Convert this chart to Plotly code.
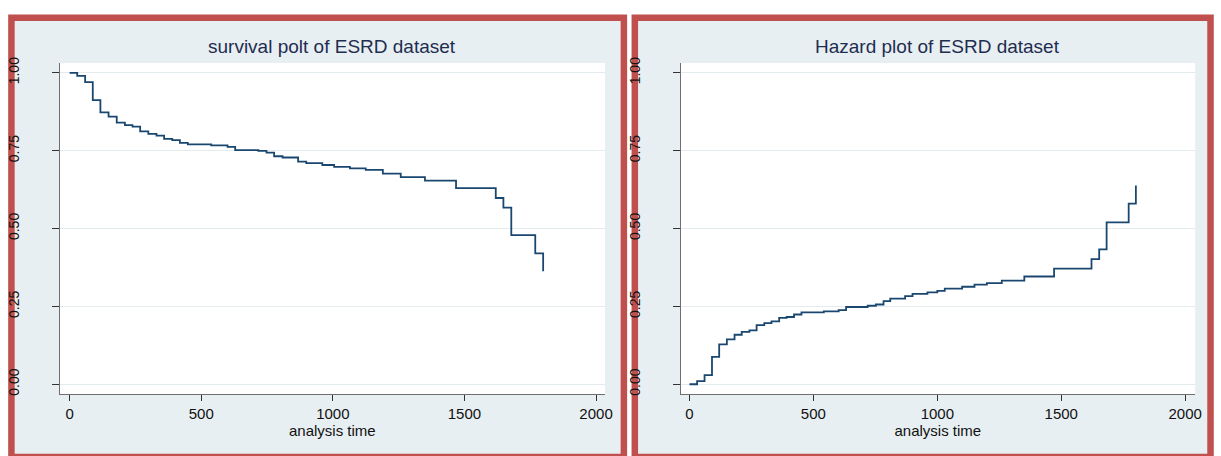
import plotly.graph_objects as go

# ---- data ----
surv_time = [0, 29, 59, 88, 117, 148, 179, 210, 239, 268, 299, 330, 359, 390, 419, 449,
             538, 600, 629, 717, 748, 777, 809, 868, 899, 960, 1005, 1065, 1125, 1190,
             1258, 1350, 1468, 1619, 1648, 1678, 1769, 1799]
surv_prob = [1.000, 0.990, 0.970, 0.912, 0.873, 0.859, 0.840, 0.832, 0.827, 0.812, 0.804,
             0.798, 0.788, 0.784, 0.775, 0.770, 0.767, 0.762, 0.752, 0.749, 0.744, 0.732,
             0.728, 0.715, 0.710, 0.704, 0.698, 0.693, 0.688, 0.676, 0.665, 0.654, 0.630,
             0.598, 0.567, 0.479, 0.420, 0.363]

haz_time = [0, 31, 61, 91, 120, 151, 182, 211, 242, 271, 302, 331, 362, 392, 422, 452,
            542, 602, 632, 719, 752, 783, 810, 870, 900, 960, 1000, 1030, 1100, 1150,
            1200, 1260, 1351, 1471, 1622, 1653, 1683, 1772, 1801]
haz_cum = [0.000, 0.010, 0.029, 0.088, 0.128, 0.144, 0.159, 0.168, 0.173, 0.190, 0.196,
           0.202, 0.213, 0.216, 0.224, 0.231, 0.234, 0.238, 0.248, 0.252, 0.256, 0.267,
           0.275, 0.283, 0.290, 0.295, 0.300, 0.307, 0.313, 0.320, 0.325, 0.333, 0.346,
           0.371, 0.402, 0.433, 0.520, 0.580, 0.638]

x_ticks = [0, 500, 1000, 1500, 2000]
y_ticks = [0, 0.25, 0.5, 0.75, 1.0]
y_tick_text = ["0.00", "0.25", "0.50", "0.75", "1.00"]
titles = ["survival polt of ESRD dataset", "Hazard plot of ESRD dataset"]
x_title = "analysis time"

W, H = 1221, 456
FONT = "Liberation Sans, Arial, sans-serif"
LINE = "#1a476f"
PANEL_BG = "#e8eff2"
RED = "#c0504d"
GRID = "#e3ebef"

fig = go.Figure()
fig.add_trace(go.Scatter(x=surv_time, y=surv_prob, mode="lines", line_shape="hv",
                         line=dict(color=LINE, width=1.8), xaxis="x", yaxis="y",
                         showlegend=False))
fig.add_trace(go.Scatter(x=haz_time, y=haz_cum, mode="lines", line_shape="hv",
                         line=dict(color=LINE, width=1.8), xaxis="x2", yaxis="y2",
                         showlegend=False))

def px_x(v):
    return v / W

def px_y(v):
    return 1 - v / H

ydom = [px_y(395), px_y(58)]
xdom1 = [px_x(60), px_x(609)]
xdom2 = [px_x(685), px_x(1203)]

def xaxis(domain, anchor, rng):
    return dict(domain=domain, anchor=anchor, range=rng, tickvals=x_ticks,
                showgrid=False, zeroline=False, showline=True, linecolor="#6e6e6e",
                linewidth=1, ticks="outside", ticklen=6, tickcolor="#333333",
                tickfont=dict(family=FONT, size=15, color="#111111"),
                title=dict(text=x_title, standoff=0,
                           font=dict(family=FONT, size=15, color="#111111")))

def yaxis(domain, anchor):
    return dict(domain=domain, anchor=anchor, range=[-0.0315, 1.0315],
                tickvals=y_ticks, ticktext=y_tick_text, tickangle=-90,
                showgrid=True, gridcolor=GRID, gridwidth=1, zeroline=False,
                showline=True, linecolor="#6e6e6e", linewidth=1,
                ticks="outside", ticklen=7, tickcolor="#333333",
                ticklabelstandoff=27,
                tickfont=dict(family=FONT, size=14, color="#111111"))

def rect(x0, x1, y0, y1, fill, line=None):
    d = dict(type="rect", xref="paper", yref="paper", layer="below",
             x0=px_x(x0), x1=px_x(x1), y0=px_y(y1), y1=px_y(y0), fillcolor=fill)
    d["line"] = line if line else dict(width=0)
    return d

fig.update_layout(
    width=W, height=H, margin=dict(l=0, r=0, t=0, b=0),
    paper_bgcolor="white", plot_bgcolor="white",
    xaxis=xaxis(xdom1, "y", [-38, 2034]),
    yaxis=yaxis(ydom, "x"),
    xaxis2=xaxis(xdom2, "y2", [-36, 2040]),
    yaxis2=yaxis(ydom, "x2"),
    shapes=[
        rect(11.5, 628, 12, 459, PANEL_BG, dict(color=RED, width=6.5)),
        rect(639, 1218.5, 12, 459, PANEL_BG, dict(color=RED, width=6.5)),
        rect(60, 609, 58, 395, "white"),
        rect(685, 1203, 58, 395, "white"),
    ],
    annotations=[
        dict(text=titles[0], xref="paper", yref="paper", x=px_x(334.5), y=px_y(41),
             xanchor="center", yanchor="middle", showarrow=False,
             font=dict(family=FONT, size=19, color="#1e2d50")),
        dict(text=titles[1], xref="paper", yref="paper", x=px_x(944), y=px_y(41),
             xanchor="center", yanchor="middle", showarrow=False,
             font=dict(family=FONT, size=19, color="#1e2d50")),
    ],
)

fig.write_html("out.html")
